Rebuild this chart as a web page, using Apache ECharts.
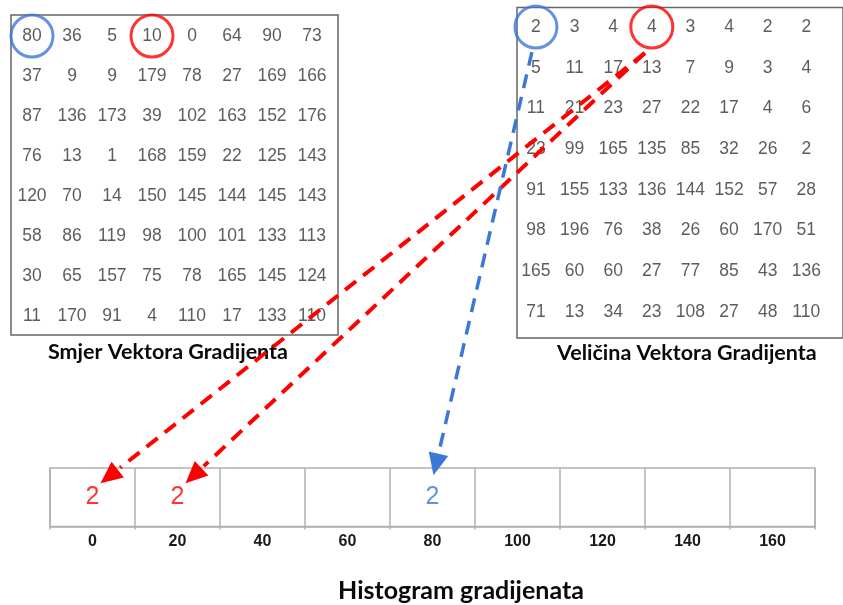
<!DOCTYPE html>
<html><head><meta charset="utf-8">
<script src="https://cdn.jsdelivr.net/npm/echarts@6/dist/echarts.min.js"></script>
<style>html,body{margin:0;padding:0;background:#fff}#c{width:843px;height:605px}</style>
</head><body><div id="c"></div>
<script>
// ---------- DATA ----------
const directionGrid = [
  [80, 36, 5, 10, 0, 64, 90, 73],
  [37, 9, 9, 179, 78, 27, 169, 166],
  [87, 136, 173, 39, 102, 163, 152, 176],
  [76, 13, 1, 168, 159, 22, 125, 143],
  [120, 70, 14, 150, 145, 144, 145, 143],
  [58, 86, 119, 98, 100, 101, 133, 113],
  [30, 65, 157, 75, 78, 165, 145, 124],
  [11, 170, 91, 4, 110, 17, 133, 110]
];
const magnitudeGrid = [
  [2, 3, 4, 4, 3, 4, 2, 2],
  [5, 11, 17, 13, 7, 9, 3, 4],
  [11, 21, 23, 27, 22, 17, 4, 6],
  [23, 99, 165, 135, 85, 32, 26, 2],
  [91, 155, 133, 136, 144, 152, 57, 28],
  [98, 196, 76, 38, 26, 60, 170, 51],
  [165, 60, 60, 27, 77, 85, 43, 136],
  [71, 13, 34, 23, 108, 27, 48, 110]
];
const binLabels = ['0', '20', '40', '60', '80', '100', '120', '140', '160'];
// circled cells: [col, row, source]
const circledCols = [0, 3];
const circledRows = [0, 0];
const circledSource = ['theta80', 'theta10'];
// histogram entries
const histHitBins = ['0', '20', '80'];
const histHitValues = [2, 2, 2];
const histHitSource = ['theta10', 'theta10', 'theta80'];
const titleLeft = 'Smjer Vektora Gradijenta';
const titleRight = 'Veličina Vektora Gradijenta';
const titleHist = 'Histogram gradijenata';

// ---------- STYLE ----------
const sourceColor = { theta10: '#ff0000', theta80: '#3c78d8' };
const numFont = 'Liberation Sans, Arial, sans-serif';
const titleFont = 'Lato, "Open Sans", sans-serif';
const numColor = '#333333';

function flatten(grid) {
  const out = [];
  grid.forEach((row, r) => row.forEach((v, c) => out.push([c, r, v])));
  return out;
}
function circles() {
  return circledCols.map((c, i) => ({
    value: [c, circledRows[i]],
    itemStyle: { color: 'rgba(0,0,0,0)', borderColor: sourceColor[circledSource[i]], borderWidth: 3 }
  }));
}
const hiddenVal = (min, max, inverse) => ({
  type: 'value', min, max, inverse: !!inverse, show: false,
  splitLine: { show: false }
});
const numberLabel = {
  show: true, position: 'inside', color: numColor, fontSize: 17.5,
  fontFamily: numFont, formatter: p => p.value[2]
};

const chart = echarts.init(document.getElementById('c'));
const option = {
  animation: false,
  backgroundColor: '#fff',
  grid: [
    { left: 11, top: 15, width: 327, height: 320, show: true, borderColor: '#666', borderWidth: 1.5, backgroundColor: 'transparent' },
    { left: 517, top: 7.5, width: 345, height: 330.5, show: true, borderColor: '#666', borderWidth: 1.5, backgroundColor: 'transparent' },
    { left: 50, top: 468, width: 765, height: 58.5, show: true, borderColor: '#b0b0b0', borderWidth: 1.5, backgroundColor: 'transparent' }
  ],
  xAxis: [
    Object.assign(hiddenVal(-0.525, 7.65), { gridIndex: 0 }),
    Object.assign(hiddenVal(-0.49, 7.95), { gridIndex: 1 }),
    {
      gridIndex: 2, type: 'category', data: binLabels, boundaryGap: true,
      axisLine: { show: true, lineStyle: { color: '#b0b0b0', width: 1.5 } },
      axisTick: { show: true, length: 3, lineStyle: { color: '#b0b0b0', width: 1.5 } },
      axisLabel: { margin: 7, fontSize: 16, fontWeight: 'bold', color: '#1a1a1a', fontFamily: numFont },
      splitLine: { show: true, lineStyle: { color: '#b0b0b0', width: 1.5 } }
    }
  ],
  yAxis: [
    Object.assign(hiddenVal(-0.525, 7.475, true), { gridIndex: 0 }),
    Object.assign(hiddenVal(-0.48, 7.64, true), { gridIndex: 1 }),
    Object.assign(hiddenVal(0, 1), { gridIndex: 2 })
  ],
  series: [
    { type: 'scatter', xAxisIndex: 0, yAxisIndex: 0, silent: true, symbolSize: 1,
      itemStyle: { color: 'rgba(0,0,0,0)' }, label: numberLabel, data: flatten(directionGrid) },
    { type: 'scatter', xAxisIndex: 0, yAxisIndex: 0, silent: true, symbolSize: 42, z: 5, data: circles() },
    { type: 'scatter', xAxisIndex: 1, yAxisIndex: 1, silent: true, symbolSize: 1,
      itemStyle: { color: 'rgba(0,0,0,0)' }, label: numberLabel, data: flatten(magnitudeGrid) },
    { type: 'scatter', xAxisIndex: 1, yAxisIndex: 1, silent: true, symbolSize: 42, z: 5, data: circles() },
    { type: 'scatter', xAxisIndex: 2, yAxisIndex: 2, silent: true, symbolSize: 1,
      itemStyle: { color: 'rgba(0,0,0,0)' },
      data: histHitBins.map((b, i) => ({
        value: [binLabels.indexOf(b), 0.5, histHitValues[i]],
        label: { show: true, position: 'inside', formatter: String(histHitValues[i]),
          color: sourceColor[histHitSource[i]], fontSize: 25, fontFamily: numFont }
      }))
    }
  ]
};
chart.setOption(option);

// ---------- ARROWS (positions from the library's own axes) ----------
const startOffset = { theta10: [-7, 26], theta80: [-4, 25] };
const tipOffset = { theta10: [8, -14], theta80: [1, -22] };
const lineW = { theta10: 4, theta80: 3.5 };
function arrow(S, T, color, width) {
  const dx = T[0] - S[0], dy = T[1] - S[1], L = Math.hypot(dx, dy);
  const ux = dx / L, uy = dy / L, head = 22, hw = 10;
  const B = [T[0] - ux * head, T[1] - uy * head];
  return [
    { type: 'line', silent: true, z: 100,
      shape: { x1: S[0], y1: S[1], x2: B[0] - ux * 3, y2: B[1] - uy * 3 },
      style: { stroke: color, lineWidth: width, lineDash: [14, 9] } },
    { type: 'polygon', silent: true, z: 100,
      shape: { points: [T, [B[0] - uy * hw, B[1] + ux * hw], [B[0] + uy * hw, B[1] - ux * hw]] },
      style: { fill: color } }
  ];
}
const graphics = [];
histHitBins.forEach((b, i) => {
  const src = histHitSource[i];
  const k = circledSource.indexOf(src);
  const c = chart.convertToPixel({ xAxisIndex: 1, yAxisIndex: 1 }, [circledCols[k], circledRows[k]]);
  const t = chart.convertToPixel({ xAxisIndex: 2, yAxisIndex: 2 }, [binLabels.indexOf(b), 0.5]);
  const S = [c[0] + startOffset[src][0], c[1] + startOffset[src][1]];
  const T = [t[0] + tipOffset[src][0], t[1] + tipOffset[src][1]];
  graphics.push(...arrow(S, T, sourceColor[src], lineW[src]));
});
const gl = chart.convertToPixel({ xAxisIndex: 0, yAxisIndex: 0 }, [3.5, 7.5]);
const gr = chart.convertToPixel({ xAxisIndex: 1, yAxisIndex: 1 }, [3.7, 7.64]);
graphics.push(
  { type: 'text', silent: true, x: gl[0] - 4, y: gl[1] + 16,
    style: { text: titleLeft, font: 'bold 21.5px ' + titleFont, fill: '#0a0a0a', align: 'center', verticalAlign: 'middle' } },
  { type: 'text', silent: true, x: gr[0] + 8, y: gr[1] + 15,
    style: { text: titleRight, font: 'bold 21.5px ' + titleFont, fill: '#0a0a0a', align: 'center', verticalAlign: 'middle' } },
  { type: 'text', silent: true, x: 461, y: 591,
    style: { text: titleHist, font: 'bold 25px ' + titleFont, fill: '#0a0a0a', align: 'center', verticalAlign: 'middle' } }
);
chart.setOption({ graphic: graphics });
</script>
</body></html>
